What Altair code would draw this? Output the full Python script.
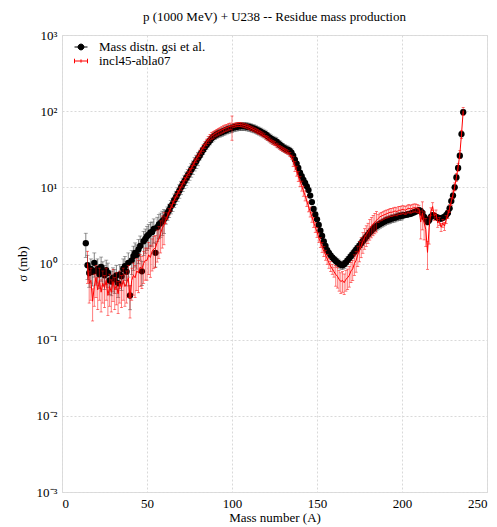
import altair as alt
import pandas as pd

TITLE = "p (1000 MeV) + U238 -- Residue mass production"
EXP_LABEL = "Mass distn. gsi et al."
MOD_LABEL = "incl45-abla07"
X_TITLE = "Mass number (A)"
Y_TITLE = "σ (mb)"
X_TICKS = [0, 50, 100, 150, 200, 250]
Y_TICKS = [0.001, 0.01, 0.1, 1, 10, 100, 1000]

# experimental data, A = 14 .. 236
exp_A = list(range(14, 237))
exp_sigma = [
    1.85, 0.95, 0.75, 0.85, 0.78, 1.02, 0.80, 0.85, 0.72, 0.90,   # 14-23
    0.78, 0.70, 0.82, 0.75, 0.60, 0.58, 0.65, 0.62, 0.70, 0.55,   # 24-33
    0.72, 0.68, 0.85, 0.92, 0.78, 1.02, 0.38, 1.10, 1.25, 1.38,   # 34-43
    1.30, 1.53, 1.70, 0.79, 1.96, 2.10, 2.28, 2.40, 2.55, 2.60,   # 44-53
    2.85, 1.38, 3.00, 3.25, 3.40, 3.60, 3.80, 4.10, 4.60, 5.00,   # 54-63
    5.6, 6.0, 6.8, 7.4, 8.2, 9.0, 10.0, 11.0, 12.0, 13.2,         # 64-73
    14.3, 15.5, 17.0, 18.5, 20.5, 22.0, 24.0, 26.0, 28.5, 31.0,   # 74-83
    33.5, 36.0, 38.5, 41.0, 44.0, 46.0, 48.0, 49.5, 51.0, 52.0,   # 84-93
    53.0, 54.5, 55.5, 57.0, 58.0, 59.0, 60.0, 61.0, 62.0, 62.5,   # 94-103
    63.0, 63.5, 63.5, 63.5, 63.0, 62.5, 62.0, 61.0, 60.0, 59.0,   # 104-113
    57.5, 56.0, 55.0, 53.5, 52.0, 50.5, 49.0, 47.0, 45.0, 43.5,   # 114-123
    42.0, 41.0, 40.0, 38.0, 36.5, 35.0, 33.5, 32.5, 31.5, 31.0,   # 124-133
    30.0, 28.5, 26.0, 23.0, 20.5, 18.0, 15.6, 14.0, 12.5, 11.4,   # 134-143
    10.3, 9.2, 7.8, 6.4, 5.2, 4.4, 3.8, 3.2, 2.7, 2.3,            # 144-153
    1.95, 1.70, 1.50, 1.38, 1.28, 1.20, 1.14, 1.08, 1.03, 0.99,   # 154-163
    0.96, 0.95, 0.98, 1.03, 1.10, 1.17, 1.25, 1.33, 1.42, 1.52,   # 164-173
    1.62, 1.72, 1.85, 1.98, 2.10, 2.25, 2.40, 2.55, 2.70, 2.85,   # 174-183
    3.00, 3.10, 3.20, 3.30, 3.40, 3.50, 3.60, 3.70, 3.75, 3.80,   # 184-193
    3.90, 3.95, 4.00, 4.10, 4.15, 4.20, 4.25, 4.30, 4.35, 4.40,   # 194-203
    4.45, 4.50, 4.60, 4.70, 4.80, 4.90, 5.00, 4.90, 4.60, 4.10,   # 204-213
    3.80, 3.50, 3.70, 4.10, 4.30, 4.20, 4.10, 4.00, 3.90, 3.90,   # 214-223
    4.00, 4.10, 4.30, 4.60, 5.30, 6.60, 7.80, 10.0, 13.5, 18.0,   # 224-233
    26.0, 50.0, 97.0,                                             # 234-236
]
# relative error bars read per mass range: (A_from, A_to, rel_err)
exp_err_ranges = [(14, 60, 0.35), (61, 80, 0.20), (81, 135, 0.12),
                  (136, 160, 0.06), (161, 200, 0.12), (201, 236, 0.08)]

# model (incl45-abla07), A = 15 .. 236
mod_A = list(range(15, 237))
mod_sigma = [
    1.00, 0.55, 0.60, 0.32, 0.50, 0.65, 0.45, 0.60, 0.42, 0.55,   # 15-24
    0.48, 0.60, 0.38, 0.50, 0.42, 0.58, 0.45, 0.52, 0.40, 0.55,   # 25-34
    0.48, 0.60, 0.50, 0.55, 0.65, 0.35, 0.60, 0.70, 0.65, 0.80,   # 35-44
    0.75, 0.90, 0.85, 1.00, 1.10, 1.10, 1.30, 1.20, 1.45, 1.55,   # 45-54
    1.60, 1.90, 2.10, 2.50, 2.90, 3.20, 3.70, 4.20, 4.80, 5.40,   # 55-64
    6.0, 6.8, 7.5, 8.3, 9.2, 10.2, 11.2, 12.3, 13.5, 14.8,        # 65-74
    16.0, 17.5, 19.5, 21.5, 23.5, 25.5, 28.0, 30.5, 33.0, 36.0,   # 75-84
    39.0, 42.0, 45.0, 47.5, 49.0, 51.0, 52.5, 54.0, 55.5, 57.0,   # 85-94
    58.5, 60.0, 61.0, 62.5, 63.5, 64.0, 65.0, 66.0, 66.5, 67.0,   # 95-104
    66.5, 66.0, 65.0, 64.0, 63.0, 61.5, 60.0, 58.5, 57.0, 55.5,   # 105-114
    54.0, 52.5, 51.0, 49.0, 47.5, 45.5, 44.0, 42.0, 40.5, 39.0,   # 115-124
    37.5, 36.0, 35.0, 33.5, 32.5, 31.5, 30.5, 29.5, 28.5, 27.0,   # 125-134
    25.0, 22.0, 19.0, 16.5, 14.0, 12.0, 10.5, 9.0, 7.8, 6.6,      # 135-144
    5.6, 4.8, 4.1, 3.5, 3.0, 2.6, 2.2, 1.9, 1.65, 1.45,           # 145-154
    1.30, 1.15, 1.02, 0.92, 0.85, 0.78, 0.72, 0.68, 0.62, 0.58,   # 155-164
    0.60, 0.56, 0.62, 0.65, 0.70, 0.80, 0.85, 1.00, 1.10, 1.30,   # 165-174
    1.50, 1.70, 1.95, 2.20, 2.40, 2.60, 2.90, 3.10, 3.30, 3.50,   # 175-184
    3.70, 3.90, 4.10, 4.20, 4.30, 4.40, 4.50, 4.60, 4.70, 4.70,   # 185-194
    4.80, 4.90, 4.80, 5.00, 5.00, 5.10, 5.10, 5.00, 5.20, 5.30,   # 195-204
    5.20, 5.30, 5.40, 5.40, 5.30, 5.20, 3.50, 4.60, 3.40, 2.80,   # 205-214
    1.40, 3.00, 4.80, 5.60, 4.20, 4.50, 3.40, 3.60, 3.00, 3.40,   # 215-224
    3.10, 3.80, 4.40, 5.30, 6.60, 8.00, 10.2, 13.5, 18.5, 27.0,   # 225-234
    50.0, 100.0,                                                  # 235-236
]
mod_err_ranges = [(15, 60, 0.45), (61, 99, 0.10), (100, 100, 0.35),
                  (101, 135, 0.06), (136, 160, 0.15), (161, 185, 0.30),
                  (186, 210, 0.12), (211, 216, 0.40), (217, 236, 0.12)]


def rel_err(a, ranges):
    for lo, hi, e in ranges:
        if lo <= a <= hi:
            return e
    return 0.1


def build(A, s, ranges, name):
    df = pd.DataFrame({"A": A, "sigma": s})
    df["err"] = [rel_err(a, ranges) for a in A]
    df["lo"] = df["sigma"] * (1 - df["err"])
    df["hi"] = df["sigma"] * (1 + df["err"])
    df["series"] = name
    return df


exp_df = build(exp_A, exp_sigma, exp_err_ranges, EXP_LABEL)
mod_df = build(mod_A, mod_sigma, mod_err_ranges, MOD_LABEL)

FONT = "Liberation Serif"
FS = 13
xscale = alt.Scale(domain=[0, 250], nice=False, zero=False)
yscale = alt.Scale(type="log", domain=[0.001, 1000], nice=False)

label_expr = ("datum.value >= 999 ? '10³' : datum.value >= 99 ? '10²' : "
              "datum.value >= 9 ? '10¹' : datum.value >= 0.9 ? '10⁰' : "
              "datum.value >= 0.09 ? '10⁻¹' : datum.value >= 0.009 ? '10⁻²' : '10⁻³'")

xaxis = alt.Axis(values=X_TICKS, grid=True, gridColor="#d9d9d9", gridDash=[2, 2],
                 tickSize=0, labelPadding=5, domain=False, labelFont=FONT,
                 labelFontSize=FS, labelColor="black", labelFlush=True,
                 title=X_TITLE, titleFont=FONT,
                 titleFontSize=FS, titleFontWeight="normal", titleColor="black",
                 titlePadding=1)
yaxis = alt.Axis(values=Y_TICKS, grid=True, gridColor="#d9d9d9", gridDash=[2, 2],
                 tickSize=0, labelPadding=5, domain=False, labelFont=FONT,
                 labelFontSize=FS, labelColor="black", labelExpr=label_expr,
                 title=Y_TITLE, titleFont=FONT, titleFontSize=FS,
                 titleFontWeight="normal", titleColor="black", titlePadding=7)


def X():
    return alt.X("A:Q", scale=xscale, axis=xaxis)


def Y(field):
    return alt.Y(f"{field}:Q", scale=yscale, axis=yaxis)


EXP_ERR_COLOR = "#4d4d4d"
RED = "#ff0000"

exp_base = alt.Chart(exp_df)
mod_base = alt.Chart(mod_df)

exp_bars = exp_base.mark_rule(color=EXP_ERR_COLOR, strokeWidth=0.7).encode(
    x=X(), y=Y("lo"), y2="hi:Q")
exp_caps = exp_base.transform_fold(["lo", "hi"], as_=["end", "val"]).mark_tick(
    orient="horizontal", size=4, thickness=0.7, color=EXP_ERR_COLOR).encode(
    x=X(), y=Y("val"))
exp_pts = exp_base.mark_circle(size=40, color="black", opacity=1).encode(
    x=X(), y=Y("sigma"))

mod_bars = mod_base.mark_rule(color=RED, strokeWidth=0.6, opacity=0.85).encode(
    x=X(), y=Y("lo"), y2="hi:Q")
mod_caps = mod_base.transform_fold(["lo", "hi"], as_=["end", "val"]).mark_tick(
    orient="horizontal", size=3, thickness=0.6, color=RED, opacity=0.85).encode(
    x=X(), y=Y("val"))
mod_line = mod_base.mark_line(color=RED, strokeWidth=1).encode(
    x=X(), y=Y("sigma"))

# legend carrier (no visible marks)
dom = [EXP_LABEL, MOD_LABEL]
leg = alt.Legend(orient="none", legendX=12, legendY=5, title=None,
                 labelFont=FONT, labelFontSize=FS, labelColor="black",
                 symbolSize=169, symbolStrokeWidth=1, rowPadding=0,
                 labelOffset=11, padding=0, symbolOpacity=1)
path_exp = "M-1,0L1,0M0.45,0A0.45,0.45,0,1,1,-0.45,0A0.45,0.45,0,1,1,0.45,0Z"
path_mod = "M-1,0L1,0M-1,-0.35L-1,0.35M1,-0.35L1,0.35M0,-0.25L0,0.25"
legend_layer = exp_base.transform_filter("datum.A < 0").mark_point(
    filled=False, opacity=1).encode(
    x=X(), y=Y("sigma"),
    fill=alt.Fill("series:N", scale=alt.Scale(domain=dom, range=["black", "transparent"]), legend=leg),
    stroke=alt.Stroke("series:N", scale=alt.Scale(domain=dom, range=["black", RED]), legend=leg),
    shape=alt.Shape("series:N", scale=alt.Scale(domain=dom, range=[path_exp, path_mod]), legend=leg),
)

chart = alt.layer(
    exp_bars, exp_caps, exp_pts, mod_bars, mod_caps, mod_line, legend_layer
).properties(
    width=425, height=457,
    title=alt.TitleParams(TITLE, font=FONT, fontSize=FS, fontWeight="normal",
                          color="black", offset=5),
    autosize=alt.AutoSizeParams(type="none"),
    padding={"left": 54, "top": 27, "right": 2, "bottom": 33},
).configure_view(stroke="#888888", strokeWidth=1.2).configure(background="white")

chart.save("out.html", embed_options={"renderer": "svg", "actions": False})
